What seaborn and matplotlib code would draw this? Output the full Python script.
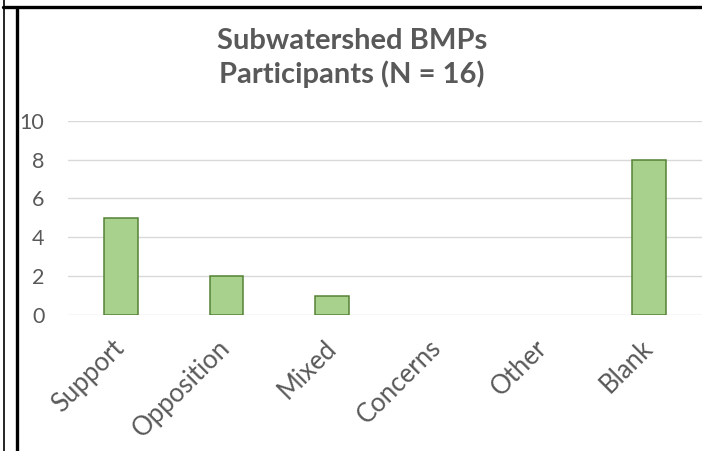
import matplotlib
matplotlib.use("Agg")
import matplotlib.pyplot as plt
from matplotlib.lines import Line2D
import seaborn as sns
import pandas as pd

categories = ["Support", "Opposition", "Mixed", "Concerns", "Other", "Blank"]
counts = [5, 2, 1, 0, 0, 8]
yticks = [0, 2, 4, 6, 8, 10]
title_text = "Subwatershed BMPs\nParticipants (N = 16)"

df = pd.DataFrame({"category": categories, "count": counts})

sns.set_theme(style="white")
plt.rcParams["font.family"] = ["Lato", "DejaVu Sans"]

W, H = 702, 451
fig = plt.figure(figsize=(W / 100, H / 100), dpi=100)
ax = fig.add_axes([68 / W, 1 - 315 / H, 1 - 68 / W, (315 - 120.7) / H])

sns.barplot(data=df, x="category", y="count", ax=ax, width=0.32,
            color="#A9D18E", edgecolor="#548235", linewidth=1.1,
            saturation=1, zorder=3)
for p in ax.patches:
    if p.get_height() == 0:
        p.set_visible(False)

ax.set_ylim(0, 10)
ax.set_xlim(-0.5, 5.5)
ax.set_yticks(yticks)
ax.set_yticklabels([str(v) for v in yticks])
ax.yaxis.grid(True, color="#D9D9D9", linewidth=1.0, zorder=0)
ax.xaxis.grid(False)
ax.set_axisbelow(True)
for s in ax.spines.values():
    s.set_visible(False)
ax.set_xlabel("")
ax.set_ylabel("")
ax.tick_params(axis="y", length=0, pad=17, labelsize=15.5, labelcolor="#595959")
ax.tick_params(axis="x", length=0, pad=21, labelsize=18.5, labelcolor="#595959")
for lab in ax.get_xticklabels():
    lab.set_rotation(45)
    lab.set_ha("right")
    lab.set_va("center")
    lab.set_rotation_mode("anchor")

fig.text(352 / W, 1 - 58 / H, title_text, ha="center", va="center",
         fontsize=21, fontweight="bold", color="#595959", linespacing=1.27)

# page border lines
fig.add_artist(Line2D([3.5 / W, 3.5 / W], [0, 1], color="black", lw=1.2,
                      transform=fig.transFigure))
fig.add_artist(Line2D([16.5 / W, 16.5 / W], [0, 1 - 8 / H], color="black", lw=2.4,
                      transform=fig.transFigure))
fig.add_artist(Line2D([3 / W, 1], [1 - 6.5 / H, 1 - 6.5 / H], color="black", lw=2.4,
                      transform=fig.transFigure))

fig.savefig("out.png", dpi=100)
